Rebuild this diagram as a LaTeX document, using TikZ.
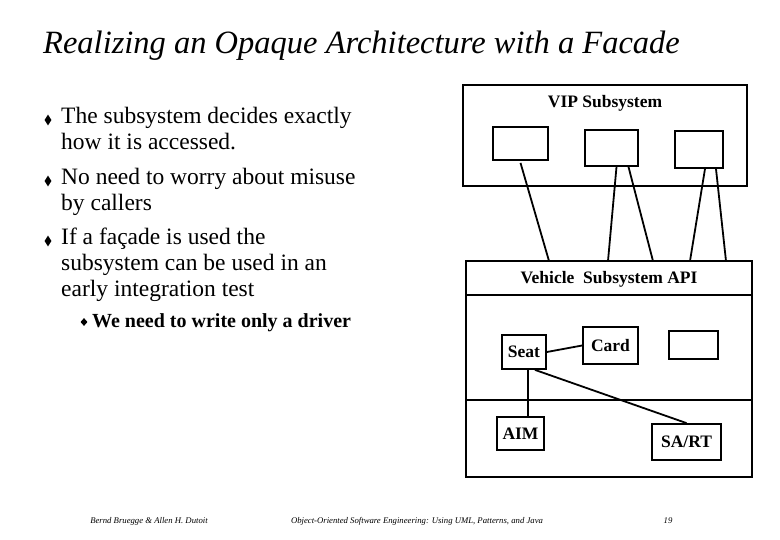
\documentclass[tikz,border=0pt]{standalone}
\usepackage{fontspec}
\usetikzlibrary{shapes.geometric}
\setmainfont{Liberation Serif}
\begin{document}
\begin{tikzpicture}[x=1pt,y=-1pt,
  box/.style={draw,line width=1.8pt},
  ln/.style={line width=1.8pt},
  lbl/.style={font=\fontsize{17.5}{20}\selectfont\bfseries,inner sep=0},
  bul/.style={fill,diamond,inner sep=0,minimum width=7pt,minimum height=11pt},
  body/.style={font=\fontsize{23.5}{26}\selectfont,anchor=north west,align=left,inner sep=0}]
\useasboundingbox (0,0) rectangle (780,540);
\node[anchor=west,inner sep=0,font=\fontsize{32.5}{36}\selectfont\itshape] (title) at (43,46) {Realizing an Opaque Architecture with a Facade};
\node[bul] (d1) at (48,120) {};
\node[bul] (d2) at (48,181) {};
\node[bul] (d3) at (48,241) {};
\node[body] (t1) at (61,107) {The subsystem decides exactly\\how it is accessed.};
\node[body] (t2) at (61,168) {No need to worry about misuse\\by callers};
\node[body] (t3) at (61,228) {If a façade is used the\\subsystem can be used in an\\early integration test};
\node[bul,minimum width=7pt,minimum height=8pt] (d4) at (84,322) {};
\node[anchor=west,inner sep=0,font=\fontsize{20}{22}\selectfont\bfseries] (t4) at (92,323) {We need to write only a driver};
% VIP
\draw[box] (463,85) rectangle (747,186);
\node[lbl] (vip) at (605,103) {VIP Subsystem};
\node[box,minimum width=55pt,minimum height=33pt,inner sep=0] (b1) at (520.5,143.5) {};
\node[box,minimum width=53pt,minimum height=36pt,inner sep=0] (b2) at (611.5,148) {};
\node[box,minimum width=48pt,minimum height=37pt,inner sep=0] (b3) at (699,149.5) {};
% Vehicle
\draw[box] (466,261) rectangle (752,477);
\draw[ln] (466,295) -- (752,295);
\draw[ln] (466,400) -- (752,400);
\node[lbl] (veh) at (609,279) {Vehicle\ \ Subsystem API};
\node[box,lbl,minimum width=44pt,minimum height=34pt] (seat) at (524,352) {Seat};
\node[box,minimum width=55pt,minimum height=37pt,inner sep=0] (card) at (610.5,345.5) {};
\node[lbl] (cardt) at (610.5,346) {Card};
\node[box,minimum width=49pt,minimum height=28pt,inner sep=0] (e1) at (693.5,345) {};
\node[box,lbl,minimum width=47pt,minimum height=33pt] (aim) at (520.5,433.5) {AIM};
\node[box,lbl,minimum width=69pt,minimum height=36pt] (sart) at (686.5,442) {SA/RT};
\coordinate (p1) at (549,261); \coordinate (p2) at (608,261); \coordinate (p3) at (653,261);
\coordinate (p4) at (690,261); \coordinate (p5) at (726,261);
\draw[ln] ([yshift=-2pt]b1.south) -- (p1);
\draw[ln] ([xshift=5pt]b2.south) -- (p2);
\draw[ln] ([xshift=17pt]b2.south) -- (p3);
\draw[ln] ([xshift=6pt]b3.south) -- (p4);
\draw[ln] ([xshift=17pt]b3.south) -- (p5);
\draw[ln] (seat.east) -- (card.west);
\draw[ln] ([xshift=4pt]seat.south) -- ([xshift=7.5pt]aim.north);
\draw[ln] ([xshift=11pt]seat.south) -- (sart.north);
% footer
\node[inner sep=0,font=\fontsize{8.7}{10}\selectfont\itshape] (f1) at (149,521) {Bernd Bruegge \& Allen H. Dutoit};
\node[inner sep=0,font=\fontsize{8.7}{10}\selectfont\itshape] (f2) at (417,521) {Object-Oriented Software Engineering: Using UML, Patterns, and Java};
\node[inner sep=0,font=\fontsize{8.7}{10}\selectfont\itshape] (f3) at (668,521) {19};
\end{tikzpicture}
\end{document}
